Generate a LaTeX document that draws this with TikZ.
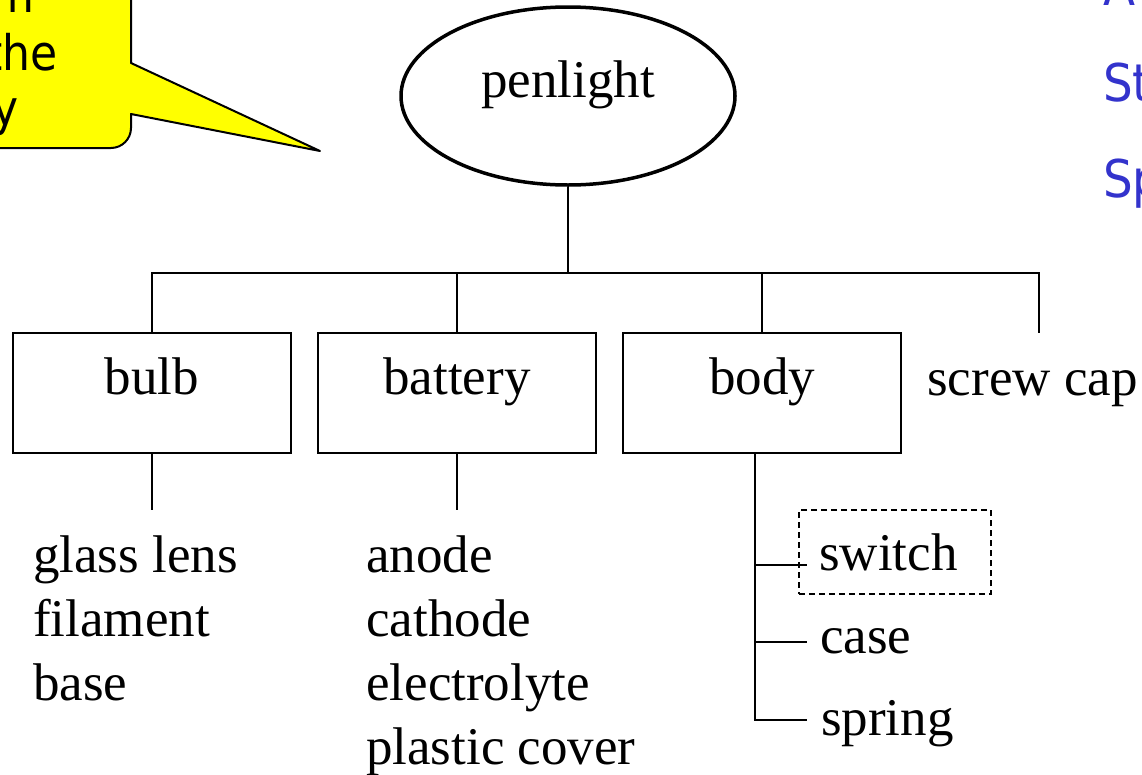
\documentclass[tikz,border=0pt]{standalone}
\usepackage{fontspec}
\setmainfont{Liberation Serif}
\newfontfamily\notefont{DejaVu Sans Condensed}
\usetikzlibrary{shapes.geometric}
\definecolor{calloutyellow}{HTML}{FFFF00}
\definecolor{noteblue}{HTML}{3333CC}
\begin{document}
\begin{tikzpicture}[x=1pt,y=-1pt,
  every node/.style={font=\fontsize{53}{64}\selectfont},
  wire/.style={line width=1.5pt},
  partbox/.style={draw, line width=1.5pt, rectangle, minimum width=278pt, minimum height=120pt,
    text height=36pt, text depth=33pt, inner sep=0pt},
  rootnode/.style={draw, ellipse, line width=3.5pt, minimum width=334pt, minimum height=178pt,
    text height=36pt, text depth=34pt, inner sep=0pt},
  leaf/.style={anchor=base west, inner sep=0pt},
  optbox/.style={draw, dash pattern=on 6pt off 4pt, line width=1.5pt, rectangle, minimum width=192pt, minimum height=84pt,
    text height=36pt, text depth=0pt, inner sep=0pt},
  callout/.style={fill=calloutyellow, draw=black, line width=2pt, line join=round},
  calltext/.style={anchor=base east, inner sep=0pt, font=\notefont\fontsize{49}{64}\selectfont},
  bluetext/.style={anchor=base west, inner sep=0pt, text=noteblue, font=\notefont\fontsize{52}{64}\selectfont}
]
\useasboundingbox (0,0) rectangle (1142,774);
\clip (0,0) rectangle (1142,774);

% callout (cut by the page edge)
\draw[callout] (131,63) -- (320,151) -- (131,114) -- (131,128)
  .. controls (131,139) and (122,148) .. (111,148) -- (-20,148) -- (-20,-20) -- (131,-20) -- cycle;
\node[calltext] (c1) at (35,12) {m};
\node[calltext] (c2) at (58,70) {the};
\node[calltext] (c3) at (19,125) {y};

% blue notes (cut by the page edge)
\node[bluetext] (n1) at (1103,5) {A};
\node[bluetext] (n2) at (1103,101) {St};
\node[bluetext] (n3) at (1103,197) {Sp};

% root
\node[rootnode] (pen) at (568,96) {penlight};
\coordinate (j0) at (568,273);

% parts
\node[partbox] (bulb) at (152,393) {bulb};
\node[partbox] (battery) at (457,393) {battery};
\node[partbox] (body) at (762,393) {body};
\node[leaf] (screwcap) at (927,395) {screw cap};
\coordinate (sctop) at (1039,333);

\draw[wire] (pen.south) -- (j0);
\draw[wire] (bulb.north) |- (j0);
\draw[wire] (j0) -| (battery.north);
\draw[wire] (j0) -| (body.north);
\draw[wire] (j0) -| (sctop);

% bulb contents
\coordinate (bulbend) at (152,510);
\draw[wire] (bulb.south) -- (bulbend);
\node[leaf] (glasslens) at (33,572) {glass lens};
\node[leaf] (filament) at (33,636) {filament};
\node[leaf] (base) at (33,700) {base};

% battery contents
\coordinate (battend) at (457,510);
\draw[wire] (battery.south) -- (battend);
\node[leaf] (anode) at (366,572) {anode};
\node[leaf] (cathode) at (366,636) {cathode};
\node[leaf] (electrolyte) at (366,700) {electrolyte};
\node[leaf] (plasticcover) at (366,764) {plastic cover};

% body contents
\node[optbox] (switch) at (895,552) {switch\rule{13pt}{0pt}};
\node[leaf] (case) at (820,653) {case};
\node[leaf] (spring) at (821,735) {spring};
\coordinate (s1) at (755,565);
\coordinate (s2) at (755,642);
\coordinate (s3) at (755,720);
\coordinate (e1) at (807,565);
\coordinate (e2) at (807,642);
\coordinate (e3) at (807,720);
\draw[wire] (body.south -| s1) -- (s3) -- (e3);
\draw[wire] (s1) -- (e1);
\draw[wire] (s2) -- (e2);
\end{tikzpicture}
\end{document}
